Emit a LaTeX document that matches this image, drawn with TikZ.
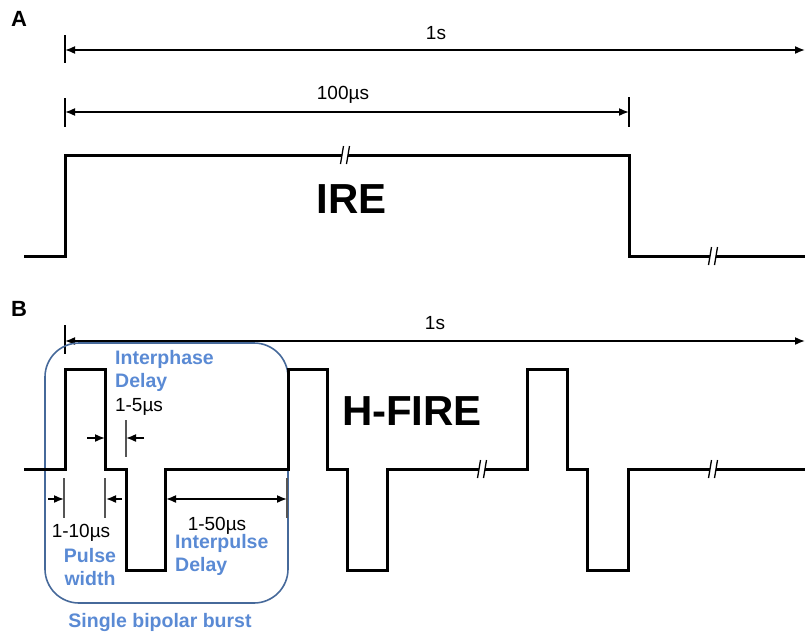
\documentclass[tikz,border=0pt]{standalone}
\usepackage{fontspec}
\setmainfont{Liberation Sans}
\usetikzlibrary{arrows.meta}
\definecolor{lblblue}{HTML}{5A8AD4}
\definecolor{boxblue}{HTML}{46699A}
\definecolor{tickgray}{HTML}{555555}
\tikzset{
  wave/.style={line width=3pt, line join=miter},
  dimline/.style={line width=1.6pt, {Latex[length=10pt,width=8pt]}-{Latex[length=10pt,width=8pt]}},
  dimto/.style={line width=1.6pt, -{Latex[length=10pt,width=8pt]}},
  tickline/.style={line width=1.6pt},
  graytick/.style={line width=1.2pt, tickgray},
  panel/.style={font=\fontsize{22}{24}\selectfont\bfseries},
  big/.style={font=\fontsize{42}{44}\selectfont\bfseries},
  dimlbl/.style={font=\fontsize{19}{21}\selectfont},
  bluelbl/.style={font=\fontsize{19.5}{23}\selectfont\bfseries, text=lblblue, inner sep=0pt},
  brk/.pic={
    \fill[white] (-4.5,9)--(-1.5,-9)--(4.5,-9)--(1.5,9)--cycle;
    \draw[line width=1.3pt] (-4.5,9)--(-1.5,-9);
    \draw[line width=1.3pt] (1.5,9)--(4.5,-9);
  }
}
\begin{document}
\begin{tikzpicture}[x=1pt,y=-1pt]
\useasboundingbox (0,0) rectangle (805,637);

% ---------- Panel A ----------
\node[panel] (A) at (19,19) {A};
\coordinate (a1L) at (65,50);
\coordinate (a1R) at (805,50);
\draw[tickline] (65,35) -- (65,63);
\draw[dimline] (a1L) -- (a1R);
\node[dimlbl] (a1s) at (436,33) {1s};

\coordinate (a2L) at (65,112);
\coordinate (a2R) at (629,112);
\draw[tickline] (65,98) -- (65,127);
\draw[tickline] (629,97) -- (629,127);
\draw[dimline] (a2L) -- (a2R);
\node[dimlbl] (a100) at (343,95) {100µs};

\draw[wave] (24,256) -- (65,256) -- (65,155) -- (629,155) -- (629,256) -- (805,256);
\pic at (345,155) {brk};
\pic at (713,256) {brk};
\node[big] (ire) at (352,199) {IRE};

% ---------- Panel B ----------
\node[panel] (B) at (19,309) {B};
\coordinate (b1L) at (65,341);
\coordinate (b1R) at (805,341);
\draw[tickline] (65,325) -- (65,354);
\draw[dimline] (b1L) -- (b1R);
\node[dimlbl] (b1s) at (435,323) {1s};

% burst box
\draw[boxblue, line width=1.6pt, rounded corners=34pt] (45,343) rectangle (288,603);

% waveform
\draw[wave] (24,469) -- (65,469) -- (65,369) -- (105,369) -- (105,469) -- (126,469)
  -- (126,570) -- (165,570) -- (165,469) -- (288,469) -- (288,369) -- (327,369)
  -- (327,469) -- (347,469) -- (347,570) -- (387,570) -- (387,469) -- (527,469)
  -- (527,369) -- (567,369) -- (567,469) -- (587,469) -- (587,570) -- (628,570)
  -- (628,469) -- (805,469);
\pic at (482,469) {brk};
\pic at (713,469) {brk};
\node[big] (hfire) at (412,411) {H-FIRE};

% interphase delay
\coordinate (ipL) at (87,438);
\coordinate (ipLe) at (105,438);
\coordinate (ipR) at (144,438);
\coordinate (ipRe) at (126,438);
\draw[graytick] (126,420) -- (126,457);
\draw[dimto] (ipL) -- (ipLe);
\draw[dimto] (ipR) -- (ipRe);
\node[bluelbl, anchor=west, align=left] (iptxt) at (115,371) {Interphase\\Delay};
\node[dimlbl] (ipval) at (139,407) {1-5µs};

% pulse width
\coordinate (pwL) at (48,499);
\coordinate (pwLe) at (64,499);
\coordinate (pwR) at (122,499);
\coordinate (pwRe) at (106,499);
\draw[graytick] (64,478) -- (64,518);
\draw[graytick] (105,478) -- (105,518);
\draw[dimto] (pwL) -- (pwLe);
\draw[dimto] (pwR) -- (pwRe);
\node[dimlbl] (pwval) at (81,533) {1-10µs};
\node[bluelbl, align=center] (pwtxt) at (90,567) {Pulse\\width};

% interpulse delay
\coordinate (idL) at (166,499);
\coordinate (idR) at (287,499);
\draw[graytick] (287,478) -- (287,518);
\draw[dimline] (idL) -- (idR);
\node[dimlbl] (idval) at (217,526) {1-50µs};
\node[bluelbl, anchor=west, align=left] (idtxt) at (175,555) {Interpulse\\Delay};

\node[bluelbl] (burst) at (160,622) {Single bipolar burst};
\end{tikzpicture}
\end{document}
